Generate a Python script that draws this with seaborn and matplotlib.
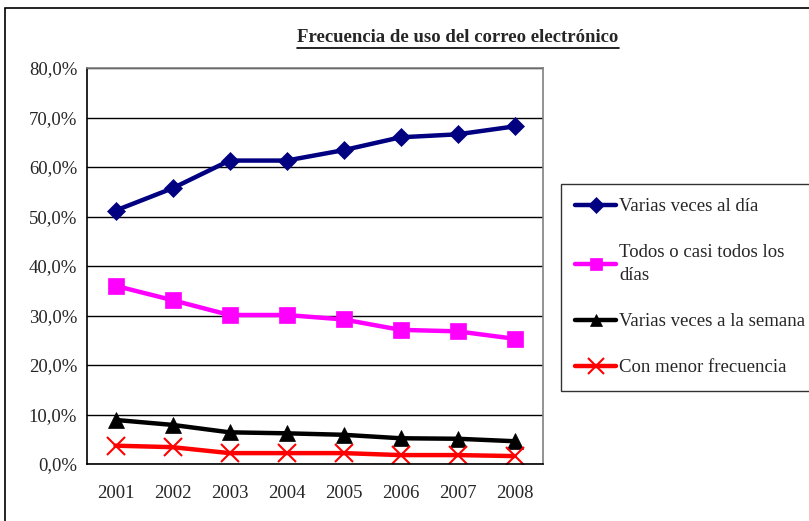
import numpy as np
import pandas as pd
import matplotlib
matplotlib.use('Agg')
import matplotlib.pyplot as plt
import seaborn as sns
from matplotlib.lines import Line2D
from matplotlib.patches import Rectangle

years = ['2001', '2002', '2003', '2004', '2005', '2006', '2007', '2008']
varias_dia = [51.2, 55.7, 61.3, 61.3, 63.4, 66.0, 66.6, 68.2]
todos_dias = [36.0, 33.1, 30.1, 30.1, 29.2, 27.1, 26.8, 25.3]
varias_semana = [8.9, 7.9, 6.4, 6.2, 5.9, 5.2, 5.1, 4.6]
menor_frec = [3.7, 3.4, 2.2, 2.2, 2.2, 1.8, 1.8, 1.6]

series = ['Varias veces al día', 'Todos o casi todos los\ndías',
          'Varias veces a la semana', 'Con menor frecuencia']
colors = ['#000080', '#FF00FF', '#000000', '#FF0000']
markers = ['D', 's', '^', 'x']
msizes = [9, 11, 11, 13]

df = pd.DataFrame({
    'x': list(range(len(years))) * 4,
    'valor': varias_dia + todos_dias + varias_semana + menor_frec,
    'serie': np.repeat(series, len(years)),
})

sns.set_style('white')
plt.rcParams['font.family'] = ['Liberation Serif', 'DejaVu Serif']

fig = plt.figure(figsize=(8.09, 5.21), dpi=100)
# outer chart border (right and bottom edges fall outside the image)
fig.add_artist(Rectangle((5 / 809, -0.1), 1.2, 1.1 - 8 / 521, transform=fig.transFigure,
                         fill=False, edgecolor='black', linewidth=1.2))
ax = fig.add_axes([87 / 809, 1 - 464 / 521, (543 - 87) / 809, (464 - 68) / 521])

for s, c, m, ms in zip(series, colors, markers, msizes):
    sub = df[df['serie'] == s]
    sns.lineplot(data=sub, x='x', y='valor', ax=ax, color=c, marker=m,
                 markersize=ms, linewidth=3.2, markeredgecolor=c,
                 markeredgewidth=1.5 if m == 'x' else 0.5, label=s)

ax.set_xlim(-0.5, len(years) - 0.5)
ax.set_ylim(0, 80)
ax.set_yticks(np.arange(0, 81, 10))
ax.set_yticklabels([f'{v:.1f}%'.replace('.', ',') for v in np.arange(0, 81, 10)])
ax.set_xticks(np.arange(-0.5, len(years), 1))
ax.set_xticklabels([])
ax.set_xticks(range(len(years)), minor=True)
ax.set_xticklabels(years, minor=True)
ax.tick_params(axis='x', which='minor', length=0, pad=15, labelsize=13.5)
ax.tick_params(axis='x', which='major', length=5, direction='out', color='black')
ax.tick_params(axis='y', length=5, direction='out', color='black', labelsize=13.5, pad=2)
ax.set_xlabel('')
ax.set_ylabel('')
ax.grid(axis='y', color='black', linewidth=1)
ax.set_axisbelow(True)
for side in ['top', 'right']:
    ax.spines[side].set_color('#808080')
    ax.spines[side].set_linewidth(1.2)
for side in ['left', 'bottom']:
    ax.spines[side].set_color('black')
    ax.spines[side].set_linewidth(1.2)

leg = ax.legend(loc='upper left', bbox_to_anchor=(561 / 809, 1 - 184 / 521),
                bbox_transform=fig.transFigure, frameon=True, fancybox=False,
                edgecolor='black', fontsize=13.5, handlelength=2.2, handletextpad=0.15,
                labelspacing=1.55, borderpad=0.75, borderaxespad=0)
leg.get_frame().set_linewidth(1)
for t in leg.get_texts():
    t.set_linespacing(1.45)
for h in leg.legend_handles:
    h.set_markersize(h.get_markersize() * 0.85)

title = fig.text(458 / 809, 1 - 38 / 521, 'Frecuencia de uso del correo electrónico',
                 ha='center', va='center', fontsize=13.5, fontweight='bold')
fig.canvas.draw()
bb = title.get_window_extent().transformed(fig.transFigure.inverted())
fig.add_artist(Line2D([bb.x0, bb.x1], [bb.y0 - 0.002, bb.y0 - 0.002],
                      transform=fig.transFigure, color='black', linewidth=1.2))

fig.savefig('out.png', dpi=100)
